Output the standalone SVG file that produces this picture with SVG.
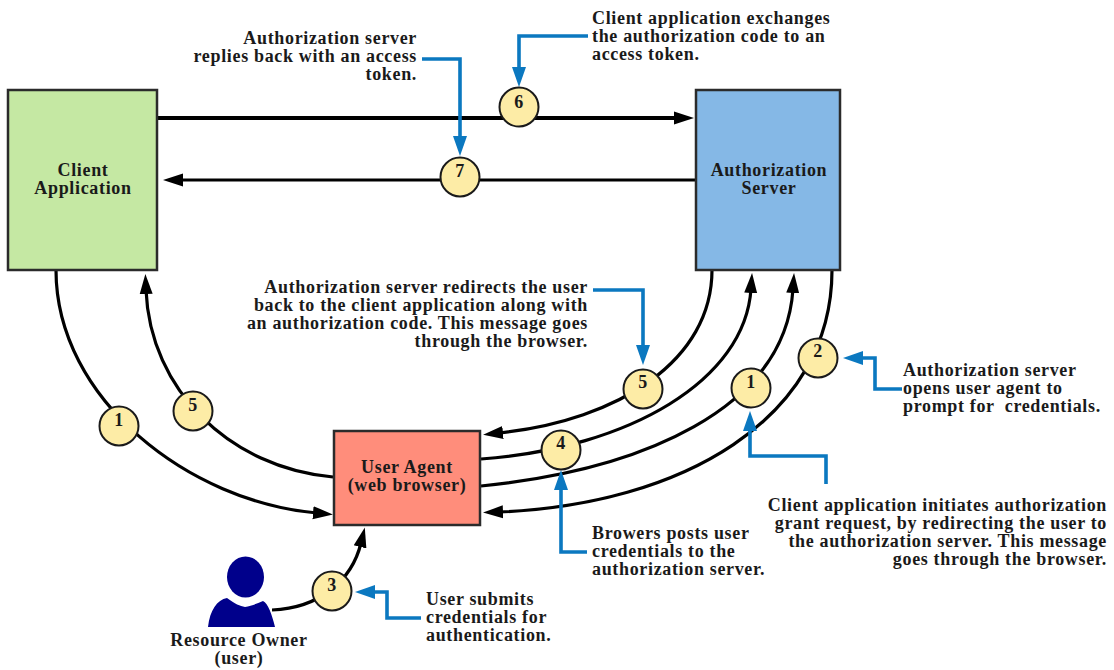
<svg xmlns="http://www.w3.org/2000/svg" width="1114" height="670" viewBox="0 0 1114 670">
<style>
text{font-family:"Liberation Serif","Times New Roman",serif;font-weight:bold;font-size:18px;letter-spacing:.66px;fill:#1a1a1a}
.e{text-anchor:end}.m{text-anchor:middle}
.box{stroke:#2b2b2b;stroke-width:2.5}
.k{fill:none;stroke:#000;stroke-width:3.2}
.b{fill:none;stroke:#0b78c0;stroke-width:3.6}
.bad{fill:#fdeca6;stroke:#1a1a1a;stroke-width:2}
</style>
<defs>
<marker id="ah" markerUnits="userSpaceOnUse" markerWidth="22" markerHeight="16" refX="4" refY="8" orient="auto"><path d="M0 1.500L20 8L0 14.500Z" fill="#000"/></marker>
<marker id="bh" markerUnits="userSpaceOnUse" markerWidth="22" markerHeight="18" refX="4" refY="9" orient="auto"><path d="M0 2L20 9L0 16Z" fill="#0b78c0"/></marker>
</defs>
<g id="connectors">
<path class="k" style="stroke-width:4" marker-end="url(#ah)" d="M157 118H678"/>
<path class="k" marker-end="url(#ah)" d="M696 180H179"/>
<path class="k" marker-end="url(#ah)" d="M56 270C56 400 190 502 317 513"/>
<path class="k" marker-end="url(#ah)" d="M333 477C230 468 150 390 146 290"/>
<path class="k" marker-end="url(#ah)" d="M712 270C712 360 620 420 499 433"/>
<path class="k" marker-end="url(#ah)" d="M481 459C630 448 745 380 751 289"/>
<path class="k" marker-end="url(#ah)" d="M481 486C640 470 785 410 793 289"/>
<path class="k" marker-end="url(#ah)" d="M832 270C832 420 680 505 499 512"/>
<path class="k" marker-end="url(#ah)" d="M272 610C320 608 352 580 361 543"/>
<path class="b" marker-end="url(#bh)" d="M588 36H519V71"/>
<path class="b" marker-end="url(#bh)" d="M422 59H460V140"/>
<path class="b" marker-end="url(#bh)" d="M593 290H643V349"/>
<path class="b" marker-end="url(#bh)" d="M902 389H875V358H859"/>
<path class="b" marker-end="url(#bh)" d="M826 484V456H750V427"/>
<path class="b" marker-end="url(#bh)" d="M587 552H561V486"/>
<path class="b" marker-end="url(#bh)" d="M421 618H387V592H371"/>
</g>
<g id="client-application"><rect class="box" x="8" y="90" width="149" height="180" fill="#c5e8a3"/><text class="m" x="83" y="176">Client</text><text class="m" x="83" y="194">Application</text></g>
<g id="authorization-server"><rect class="box" x="696" y="90" width="144" height="180" fill="#85b8e6"/><text class="m" x="769" y="176">Authorization</text><text class="m" x="769" y="194">Server</text></g>
<g id="user-agent"><rect class="box" x="334" y="431" width="146" height="94" fill="#ff8d7b"/><text class="m" x="407" y="473">User Agent</text><text class="m" x="407" y="491">(web browser)</text></g>
<g id="resource-owner"><ellipse cx="245.500" cy="577" rx="18.500" ry="20.500" fill="#00008b"/><path d="M208 627C210 610 217 600 227 598C235 604 240 606 245 607C251 606 256 604 263 601C268 603 272 615 275 627Z" fill="#00008b"/><text class="m" x="239" y="646">Resource Owner</text><text class="m" x="239" y="664">(user)</text></g>
<g id="badge-6"><circle class="bad" cx="519" cy="107" r="19.500"/><text class="m" x="519" y="108">6</text></g>
<g id="badge-7"><circle class="bad" cx="460" cy="177" r="19.500"/><text class="m" x="460" y="177">7</text></g>
<g id="badge-1a"><circle class="bad" cx="119" cy="426" r="19.500"/><text class="m" x="119" y="426">1</text></g>
<g id="badge-5a"><circle class="bad" cx="193" cy="411" r="19.500"/><text class="m" x="193" y="411">5</text></g>
<g id="badge-5b"><circle class="bad" cx="643" cy="389" r="19.500"/><text class="m" x="643" y="388">5</text></g>
<g id="badge-4"><circle class="bad" cx="561" cy="450" r="19.500"/><text class="m" x="561" y="449">4</text></g>
<g id="badge-1b"><circle class="bad" cx="751" cy="388" r="19.500"/><text class="m" x="751" y="388">1</text></g>
<g id="badge-2"><circle class="bad" cx="818" cy="358" r="19.500"/><text class="m" x="818" y="357">2</text></g>
<g id="badge-3"><circle class="bad" cx="332" cy="591" r="19.500"/><text class="m" x="332" y="591">3</text></g>
<g id="note-7"><text class="e" x="417" y="44">Authorization server</text><text class="e" x="417" y="62">replies back with an access</text><text class="e" x="417" y="80">token.</text></g>
<g id="note-6"><text x="592" y="24">Client application exchanges</text><text x="592" y="42">the authorization code to an</text><text x="592" y="60">access token.</text></g>
<g id="note-5"><text class="e" x="588" y="293">Authorization server redirects the user</text><text class="e" x="588" y="311">back to the client application along with</text><text class="e" x="588" y="329">an authorization code. This message goes</text><text class="e" x="588" y="347">through the browser.</text></g>
<g id="note-2"><text x="903" y="376">Authorization server</text><text x="903" y="394">opens user agent to</text><text x="903" y="412" xml:space="preserve">prompt for  credentials.</text></g>
<g id="note-1"><text class="e" x="1107" y="511">Client application initiates authorization</text><text class="e" x="1107" y="529">grant request, by redirecting the user to</text><text class="e" x="1107" y="547">the authorization server. This message</text><text class="e" x="1107" y="565">goes through the browser.</text></g>
<g id="note-4"><text x="592" y="539">Browers posts user</text><text x="592" y="557">credentials to the</text><text x="592" y="575">authorization server.</text></g>
<g id="note-3"><text x="426" y="605">User submits</text><text x="426" y="623">credentials for</text><text x="426" y="641">authentication.</text></g>
</svg>
